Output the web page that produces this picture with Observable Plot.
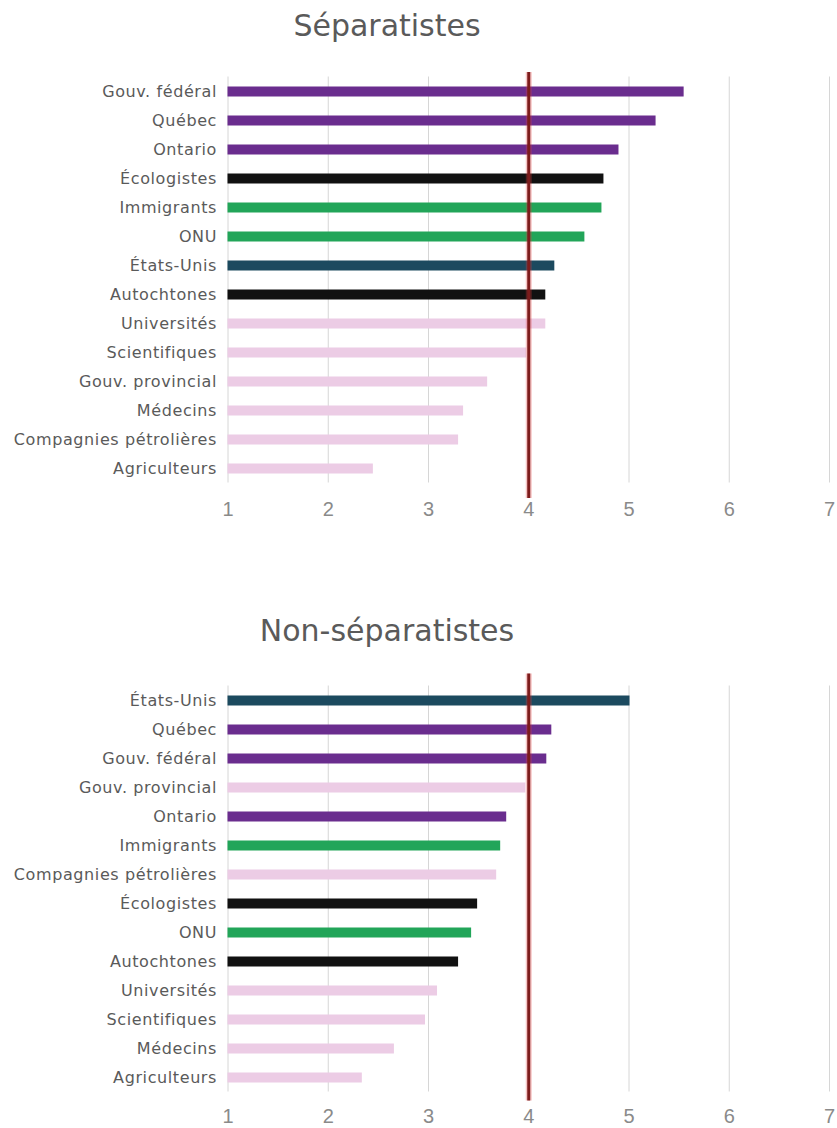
<!DOCTYPE html>
<html>
<head>
<meta charset="utf-8">
<script src="https://cdn.jsdelivr.net/npm/d3@7"></script>
<script src="https://cdn.jsdelivr.net/npm/@observablehq/plot@0.6"></script>
<style>
  body { margin: 0; background: #fff; width: 837px; height: 1128px; position: relative; overflow: hidden; font-family: "DejaVu Sans", sans-serif; }
  .title { position: absolute; left: 0; width: 774px; text-align: center; font-size: 30px; line-height: 30px; color: #5a5a5a; }
  .chart { position: absolute; left: 0; }
  g[aria-label="y-axis tick label"] text { letter-spacing: 0.6px; }
</style>
</head>
<body>
<div class="title" id="t1">Séparatistes</div>
<div class="chart" id="c1"></div>
<div class="title" id="t2">Non-séparatistes</div>
<div class="chart" id="c2"></div>
<script>
// ---- Data ----
const xTicks = [1, 2, 3, 4, 5, 6, 7];
const referenceValue = 4;

const sepCategories = ["Gouv. fédéral", "Québec", "Ontario", "Écologistes", "Immigrants", "ONU", "États-Unis", "Autochtones", "Universités", "Scientifiques", "Gouv. provincial", "Médecins", "Compagnies pétrolières", "Agriculteurs"];
const sepValues = [5.55, 5.27, 4.90, 4.75, 4.73, 4.56, 4.26, 4.17, 4.17, 3.98, 3.59, 3.35, 3.30, 2.45];

const nonSepCategories = ["États-Unis", "Québec", "Gouv. fédéral", "Gouv. provincial", "Ontario", "Immigrants", "Compagnies pétrolières", "Écologistes", "ONU", "Autochtones", "Universités", "Scientifiques", "Médecins", "Agriculteurs"];
const nonSepValues = [5.01, 4.23, 4.18, 3.97, 3.78, 3.72, 3.68, 3.49, 3.43, 3.30, 3.09, 2.97, 2.66, 2.34];

// category groups (determine bar colour)
const groupGov = ["Gouv. fédéral", "Québec", "Ontario"];
const groupActivists = ["Écologistes", "Autochtones"];
const groupOpen = ["Immigrants", "ONU"];
const groupUSA = ["États-Unis"];

// ---- Style ----
const groupKeys = ["gov", "act", "open", "usa", "other"];
const groupColors = ["#6a2d8e", "#111111", "#22a559", "#1c4a5f", "#eccce5"];
function groupOf(c) {
  if (groupGov.includes(c)) return "gov";
  if (groupActivists.includes(c)) return "act";
  if (groupOpen.includes(c)) return "open";
  if (groupUSA.includes(c)) return "usa";
  return "other";
}

function chart(cats, vals, o) {
  const data = cats.map((c, i) => ({cat: c, val: vals[i], g: groupOf(c)}));
  const svg = Plot.plot({
    width: 837,
    height: o.height,
    marginLeft: 227.5,
    marginRight: 8,
    marginTop: o.mt,
    marginBottom: o.mb,
    style: {background: "white", fontFamily: "DejaVu Sans", overflow: "visible"},
    x: {domain: [1, 7], label: null},
    y: {domain: cats, padding: 0, label: null},
    color: {domain: groupKeys, range: groupColors},
    marks: [
      Plot.ruleX(xTicks, {stroke: "#d6d6d6", strokeWidth: 1}),
      Plot.barX(data, {x1: 1, x2: "val", y: "cat", fill: "g", insetTop: 9.5, insetBottom: 9.5}),
      Plot.ruleX([referenceValue], {stroke: "#e23b3b", strokeOpacity: 0.3, strokeWidth: 6, insetTop: o.rt, insetBottom: o.rb}),
      Plot.ruleX([referenceValue], {stroke: "#7d1c1c", strokeWidth: 3, insetTop: o.rt, insetBottom: o.rb}),
      Plot.axisY({tickSize: 0, tickPadding: 11, fontSize: 16, color: "#5a5a5a", label: null}),
      Plot.axisX({ticks: xTicks, tickSize: 0, tickPadding: o.tp, fontSize: 20, fontFamily: "Liberation Sans", color: "#8a8a8a", label: null, tickFormat: d3.format("d")})
    ]
  });
  d3.select(svg).selectAll('g[aria-label="y-axis tick label"] text').style("letter-spacing", "0.6px");
  return svg;
}

const top1 = chart(sepCategories, sepValues, {height: 460, mt: 16.5, mb: 37.5, rt: -4.5, rb: -15.5, tp: 18.5});
const top2 = chart(nonSepCategories, nonSepValues, {height: 468, mt: 25.5, mb: 36.5, rt: -12, rb: -9, tp: 17});

const c1 = document.getElementById("c1");
c1.style.top = "60px";
c1.appendChild(top1);
const c2 = document.getElementById("c2");
c2.style.top = "660px";
c2.appendChild(top2);

document.getElementById("t1").style.top = "11px";
document.getElementById("t2").style.top = "616px";
</script>
</body>
</html>
